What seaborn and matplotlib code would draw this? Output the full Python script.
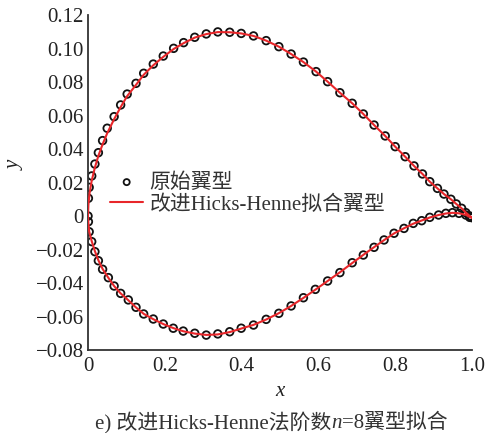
import matplotlib
matplotlib.use("Agg")
import matplotlib.pyplot as plt
import seaborn as sns
import numpy as np
import pandas as pd
from matplotlib.ticker import FuncFormatter, FixedLocator

# ---------------- data ----------------
upper_x = [0.0, 0.001, 0.003, 0.0096, 0.018, 0.027, 0.038, 0.050, 0.068, 0.085, 0.102, 0.125,
           0.145, 0.170, 0.196, 0.223, 0.249, 0.278, 0.308, 0.338, 0.369, 0.399, 0.431, 0.464,
           0.497, 0.529, 0.561, 0.594, 0.624, 0.656, 0.688, 0.717, 0.745, 0.774, 0.800, 0.826,
           0.849, 0.871, 0.890, 0.910, 0.927, 0.945, 0.959, 0.973, 0.984, 0.994, 1.0]
upper_y = [0.0, 0.0106, 0.0171, 0.0239, 0.0310, 0.0378, 0.0450, 0.0524, 0.0593, 0.0663, 0.0728,
           0.0792, 0.0852, 0.0907, 0.0955, 0.1001, 0.1035, 0.1067, 0.1087, 0.1099, 0.1097, 0.1090,
           0.1075, 0.1047, 0.1011, 0.0967, 0.0919, 0.0862, 0.0802, 0.0736, 0.0673, 0.0609, 0.0543,
           0.0478, 0.0414, 0.0354, 0.0299, 0.0251, 0.0205, 0.0165, 0.0131, 0.0100, 0.0072, 0.0046,
           0.0020, 0.0, -0.001]
lower_x = [0.001, 0.003, 0.0096, 0.018, 0.027, 0.038, 0.053, 0.068, 0.085, 0.105, 0.125, 0.145,
           0.170, 0.196, 0.222, 0.248, 0.278, 0.308, 0.338, 0.369, 0.399, 0.431, 0.464, 0.497,
           0.529, 0.561, 0.592, 0.624, 0.656, 0.688, 0.717, 0.745, 0.771, 0.797, 0.823, 0.847,
           0.869, 0.890, 0.913, 0.932, 0.949, 0.966, 0.984, 0.994]
lower_y = [-0.0034, -0.0094, -0.0153, -0.0213, -0.0267, -0.0318, -0.0368, -0.0418, -0.0462,
           -0.0501, -0.0545, -0.0585, -0.0615, -0.0645, -0.0670, -0.0687, -0.0700, -0.0711,
           -0.0704, -0.0691, -0.0670, -0.0651, -0.0617, -0.0581, -0.0537, -0.0488, -0.0438,
           -0.0388, -0.0338, -0.0279, -0.0233, -0.0187, -0.0143, -0.0103, -0.0074, -0.0044,
           -0.0028, -0.0008, 0.0006, 0.0016, 0.0020, 0.0016, 0.0006, -0.0008]

# fitted curve (upper TE->LE, then lower LE->TE)
fit_upper_x = [1.0, 0.994, 0.984, 0.973, 0.959, 0.945, 0.927, 0.910, 0.890, 0.871, 0.849, 0.826,
               0.800, 0.774, 0.745, 0.717, 0.688, 0.656, 0.624, 0.594, 0.561, 0.529, 0.497, 0.464,
               0.431, 0.399, 0.369, 0.338, 0.308, 0.278, 0.249, 0.223, 0.196, 0.170, 0.145, 0.125,
               0.102, 0.085, 0.068, 0.050, 0.038, 0.027, 0.018, 0.0096, 0.004, 0.001, 0.0]
fit_upper_y = [-0.001, 0.0, 0.0020, 0.0046, 0.0072, 0.0100, 0.0131, 0.0165, 0.0205, 0.0251,
               0.0299, 0.0354, 0.0414, 0.0478, 0.0543, 0.0609, 0.0673, 0.0736, 0.0802, 0.0862,
               0.0919, 0.0967, 0.1011, 0.1047, 0.1075, 0.1090, 0.1097, 0.1098, 0.1086, 0.1065,
               0.1032, 0.0997, 0.0950, 0.0900, 0.0843, 0.0783, 0.0716, 0.0650, 0.0578, 0.0494,
               0.0428, 0.0359, 0.0290, 0.0210, 0.0135, 0.0065, 0.0]
fit_lower_x = [0.001, 0.003, 0.0096, 0.018, 0.027, 0.038, 0.053, 0.068, 0.085, 0.105, 0.125,
               0.145, 0.170, 0.196, 0.222, 0.248, 0.278, 0.308, 0.338, 0.369, 0.399, 0.431,
               0.464, 0.497, 0.529, 0.561, 0.592, 0.624, 0.656, 0.688, 0.717, 0.745, 0.771,
               0.797, 0.823, 0.847, 0.869, 0.890, 0.913, 0.932, 0.949, 0.966, 0.984, 0.994, 1.0]
fit_lower_y = [-0.0040, -0.0092, -0.0150, -0.0210, -0.0264, -0.0316, -0.0369, -0.0418, -0.0462,
               -0.0503, -0.0546, -0.0584, -0.0616, -0.0645, -0.0669, -0.0688, -0.0702, -0.0710,
               -0.0707, -0.0693, -0.0672, -0.0650, -0.0618, -0.0580, -0.0537, -0.0489, -0.0440,
               -0.0388, -0.0336, -0.0281, -0.0232, -0.0186, -0.0144, -0.0104, -0.0073, -0.0046,
               -0.0027, -0.0009, 0.0006, 0.0015, 0.0019, 0.0016, 0.0007, -0.0006, -0.001]

x_ticks = [0, 0.2, 0.4, 0.6, 0.8, 1.0]
x_tick_labels = ["0", "0.2", "0.4", "0.6", "0.8", "1.0"]
y_ticks = [-0.08, -0.06, -0.04, -0.02, 0, 0.02, 0.04, 0.06, 0.08, 0.10, 0.12]

label_orig = "原始翼型"
label_fit = "改进Hicks-Henne拟合翼型"
caption_a = "e) 改进Hicks-Henne法阶数"
caption_n = "n"
caption_b = "=8翼型拟合"

# ---------------- plotting ----------------
sns.set_theme(style="white")
FAM = ["Liberation Serif", "Noto Sans CJK SC", "DejaVu Sans"]
plt.rcParams["font.family"] = FAM
plt.rcParams["axes.unicode_minus"] = True

fig = plt.figure(figsize=(4.92, 4.33), dpi=100)
ax = fig.add_axes([88 / 492, 1 - 350 / 433, (472 - 88) / 492, (350 - 15) / 433])

orig = pd.DataFrame({"x": upper_x + lower_x, "y": upper_y + lower_y})
fit = pd.DataFrame({"x": fit_upper_x + fit_lower_x, "y": fit_upper_y + fit_lower_y})

sns.lineplot(data=fit, x="x", y="y", sort=False, estimator=None, color="#e8262a",
             linewidth=1.5, ax=ax, label=label_fit, zorder=3)
sns.scatterplot(data=orig, x="x", y="y", marker="o", s=30, facecolor="none",
                edgecolor="#111111", linewidth=1.3, ax=ax, label=label_orig, zorder=2)

ax.set_xlim(0, 1.0)
ax.set_ylim(-0.08, 0.12)

ax.xaxis.set_major_locator(FixedLocator(x_ticks))
ax.set_xticklabels(x_tick_labels)
ax.yaxis.set_major_locator(FixedLocator(y_ticks))


def yfmt(v, pos):
    if abs(v) < 1e-9:
        return "0"
    return ("%.2f" % v).replace("-", "\u2212")


ax.yaxis.set_major_formatter(FuncFormatter(yfmt))

for s in ["top", "right"]:
    ax.spines[s].set_visible(False)
for s in ["left", "bottom"]:
    ax.spines[s].set_color("#333333")
    ax.spines[s].set_linewidth(1.3)

ax.tick_params(axis="both", direction="in", length=7, width=1.2, color="#333333",
               labelsize=15, labelcolor="#222222")
ax.tick_params(axis="x", pad=5)
ax.tick_params(axis="y", pad=3)

ax.set_xlabel("x", fontsize=15, style="italic", color="#222222")
ax.set_ylabel("y", fontsize=15, style="italic", color="#222222")
ax.xaxis.set_label_coords(0.5, -0.095)
ax.yaxis.set_label_coords(-0.165, 0.55)

handles, labels = ax.get_legend_handles_labels()
order = [labels.index(label_orig), labels.index(label_fit)]
ax.legend([handles[i] for i in order], [labels[i] for i in order],
          loc="upper left", bbox_to_anchor=(110 / 492, 1 - 173 / 433),
          bbox_transform=fig.transFigure, frameon=False, borderpad=0, borderaxespad=0,
          handlelength=1.6, handletextpad=0.3, labelspacing=0.12, markerscale=0.8,
          prop={"family": FAM, "size": 15}, labelcolor="#333333")

t1 = fig.text(95 / 492, 1 - 428 / 433, caption_a, fontsize=15, color="#333333",
              family=FAM, ha="left", va="baseline")
t2 = ax.annotate(caption_n, xy=(1, 0), xycoords=t1, fontsize=15, style="italic",
                 color="#333333", family=FAM, ha="left", va="bottom")
t3 = ax.annotate(caption_b, xy=(1, 0), xycoords=t2, fontsize=15, color="#333333",
                 family=FAM, ha="left", va="bottom")

fig.savefig("out.png", dpi=100, facecolor="white")
